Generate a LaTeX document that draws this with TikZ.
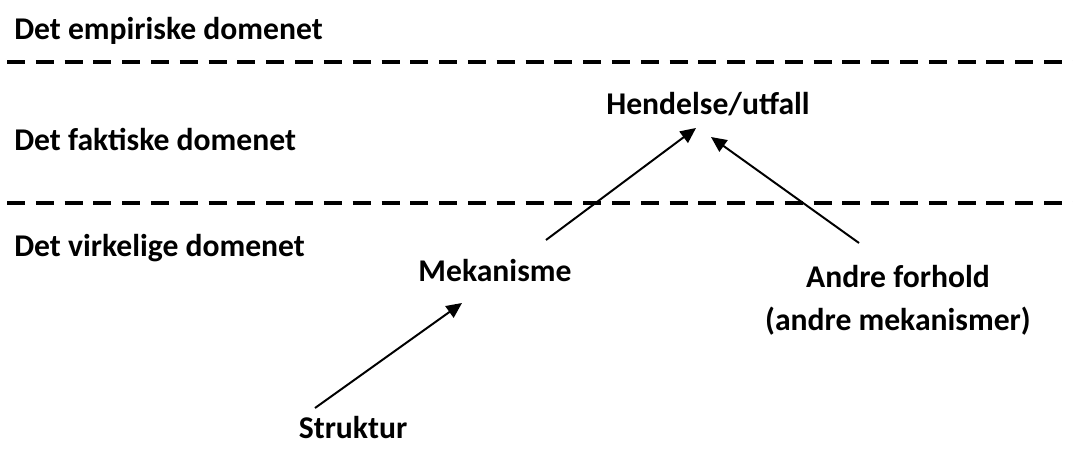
\documentclass[tikz,border=0pt]{standalone}
\usepackage{fontspec}
\setmainfont{Carlito}
\usetikzlibrary{arrows.meta}

\begin{document}
\begin{tikzpicture}[
    x=0.025cm, y=-0.025cm,
    domenetekst/.style={anchor=west, font=\bfseries\fontsize{22.5}{27}\selectfont, inner sep=0pt},
    begrep/.style={align=center, font=\bfseries\fontsize{22.5}{30.6}\selectfont, inner sep=0pt},
    skille/.style={line width=2.8pt, dash pattern=on 0.45cm off 0.27cm},
    pil/.style={-{Triangle[length=11pt, width=10pt]}, line width=1.4pt}
]
    \useasboundingbox (0,0) rectangle (1073,448);

    % Domener
    \node[domenetekst] (emp) at (14,31) {Det empiriske domenet};
    \node[domenetekst] (fak) at (14,139) {Det faktiske domenet};
    \node[domenetekst] (virk) at (14,248) {Det virkelige domenet};

    % Skillelinjer
    \draw[skille] (7,62) -- (1073,62);
    \draw[skille] (7,203) -- (1073,203);

    % Begreper
    \node[begrep] (hend) at (708,104) {Hendelse/utfall};
    \node[begrep] (mek) at (495,271) {Mekanisme};
    \node[begrep] (andre) at (898,300) {Andre forhold\\(andre mekanismer)};
    \node[begrep] (struk) at (353,428) {Struktur};

    % Piler
    \draw[pil] ([shift={(51,-31)}]mek.center) -- ([shift={(-12,24)}]hend.center);
    \draw[pil] ([shift={(-39,-57)}]andre.center) -- ([shift={(3,33)}]hend.center);
    \draw[pil] ([shift={(-38,-20)}]struk.center) -- ([shift={(-33,32)}]mek.center);
\end{tikzpicture}
\end{document}
